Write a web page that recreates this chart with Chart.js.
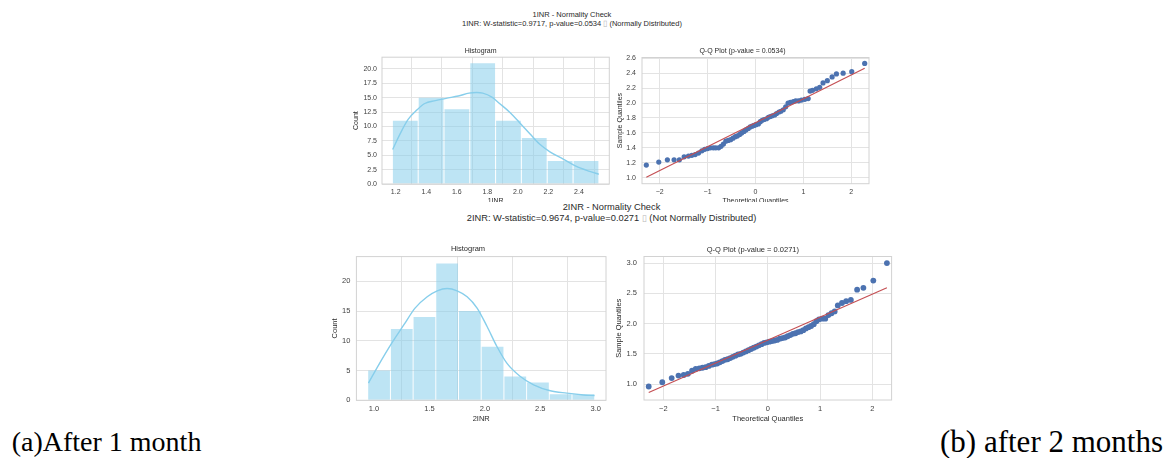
<!DOCTYPE html>
<html>
<head>
<meta charset="utf-8">
<script src="https://cdn.jsdelivr.net/npm/chart.js@4.4.1/dist/chart.umd.min.js"></script>
<style>
  body { margin: 0; background: #fff; }
  #page { position: relative; width: 1173px; height: 458px; overflow: hidden; font-family: "Liberation Sans", Arial, sans-serif; color: #2a2a2a; }
  canvas { position: absolute; }
  .sup { position: absolute; text-align: center; white-space: nowrap; background: #fff; }
  .tofu { color: #b8b8b8; }
  .cap { position: absolute; font-family: "Liberation Serif", serif; color: #000; line-height: 1; white-space: nowrap; }
</style>
</head>
<body>
<div id="page">
  <div class="sup" style="left:0; width:1144px; top:9.8px; font-size:7.5px; line-height:9px; background:none;">1INR - Normality Check<br>1INR: W-statistic=0.9717, p-value=0.0534 <span class="tofu">▯</span> (Normally Distributed)</div>

  <canvas id="hist1" width="260" height="165" style="left:352px; top:40px;"></canvas>
  <canvas id="qq1" width="257" height="165" style="left:616px; top:40px;"></canvas>

  <div class="sup" style="left:330px; width:563px; top:202px; height:22px; font-size:9.3px; line-height:10.5px;">2INR - Normality Check<br>2INR: W-statistic=0.9674, p-value=0.0271 <span class="tofu">▯</span> (Not Normally Distributed)</div>

  <canvas id="hist2" width="280" height="185" style="left:330px; top:238px;"></canvas>
  <canvas id="qq2" width="282" height="185" style="left:614px; top:238px;"></canvas>

  <div class="cap" style="left:11.7px; top:428px; font-size:28px;">(a)After 1 month</div>
  <div class="cap" style="right:10px; top:426px; font-size:31px;">(b) after 2 months</div>
</div>

<script>
// ---- 1INR (after 1 month) ----
const inr1Edges = [1.178, 1.347, 1.516, 1.685, 1.854, 2.023, 2.192, 2.362, 2.531];
const inr1Counts = [11, 15, 13, 21, 11, 8, 4, 4];
const inr1KdeX = [1.18, 1.23, 1.28, 1.34, 1.39, 1.46, 1.53, 1.61, 1.68, 1.73, 1.77, 1.83, 1.88, 1.95, 2.01, 2.08, 2.14, 2.21, 2.30, 2.38, 2.47, 2.53];
const inr1KdeY = [6.0, 8.8, 11.2, 12.9, 14.0, 14.5, 14.9, 15.3, 15.8, 15.9, 15.8, 15.1, 14.0, 12.4, 10.7, 8.7, 7.0, 5.6, 4.3, 3.1, 2.2, 1.7];
const hist1XTicks = [1.2, 1.4, 1.6, 1.8, 2.0, 2.2, 2.4];
const hist1YTicks = [0, 2.5, 5, 7.5, 10, 12.5, 15, 17.5, 20];

const qq1X = [-2.28, -2.02, -1.84, -1.70, -1.59, -1.49, -1.40, -1.33, -1.26, -1.19, -1.12, -1.06, -1.00, -0.94, -0.88, -0.83, -0.77, -0.72, -0.67, -0.62, -0.57, -0.52, -0.47, -0.42, -0.38, -0.33, -0.29, -0.24, -0.20, -0.15, -0.11, -0.07, -0.03, 0.01, 0.06, 0.10, 0.14, 0.18, 0.23, 0.27, 0.31, 0.35, 0.40, 0.44, 0.49, 0.53, 0.58, 0.63, 0.68, 0.73, 0.79, 0.84, 0.90, 0.96, 1.03, 1.10, 1.14, 1.19, 1.27, 1.34, 1.41, 1.50, 1.60, 1.69, 1.83, 2.01, 2.28];
const qq1Y = [1.17, 1.21, 1.24, 1.24, 1.24, 1.28, 1.29, 1.30, 1.31, 1.33, 1.36, 1.38, 1.39, 1.40, 1.40, 1.40, 1.40, 1.42, 1.45, 1.49, 1.50, 1.51, 1.53, 1.55, 1.56, 1.58, 1.60, 1.62, 1.64, 1.66, 1.68, 1.69, 1.70, 1.71, 1.72, 1.75, 1.77, 1.78, 1.79, 1.81, 1.82, 1.83, 1.84, 1.86, 1.88, 1.89, 1.91, 1.95, 2.00, 2.01, 2.02, 2.03, 2.03, 2.04, 2.05, 2.06, 2.16, 2.17, 2.19, 2.21, 2.27, 2.30, 2.35, 2.39, 2.40, 2.42, 2.53];
const qq1LineX = [-2.28, 2.28];
const qq1LineY = [1.005, 2.465];
const qq1YTicks = [1.0, 1.2, 1.4, 1.6, 1.8, 2.0, 2.2, 2.4, 2.6];

// ---- 2INR (after 2 months) ----
const inr2Edges = [0.943, 1.148, 1.353, 1.557, 1.762, 1.967, 2.172, 2.377, 2.581, 2.786, 2.991];
const inr2Counts = [5, 12, 14, 23, 15, 9, 4, 3, 1, 1];
const inr2KdeX = [0.95, 1.05, 1.16, 1.27, 1.37, 1.48, 1.57, 1.66, 1.75, 1.84, 1.93, 2.02, 2.11, 2.20, 2.32, 2.44, 2.59, 2.74, 2.89, 2.99];
const inr2KdeY = [2.9, 6.2, 9.6, 12.7, 15.5, 17.4, 18.4, 18.8, 18.4, 17.4, 15.5, 12.4, 9.0, 6.2, 4.0, 2.6, 1.6, 1.2, 0.9, 0.8];
const hist2XTicks = [1.0, 1.5, 2.0, 2.5, 3.0];
const hist2YTicks = [0, 5, 10, 15, 20];

const qq2X = [-2.28, -2.02, -1.84, -1.71, -1.61, -1.53, -1.45, -1.38, -1.31, -1.25, -1.19, -1.13, -1.07, -1.02, -0.97, -0.92, -0.87, -0.82, -0.77, -0.72, -0.67, -0.62, -0.57, -0.52, -0.47, -0.42, -0.37, -0.32, -0.27, -0.22, -0.17, -0.12, -0.07, -0.02, 0.03, 0.08, 0.13, 0.18, 0.23, 0.28, 0.33, 0.38, 0.43, 0.48, 0.53, 0.58, 0.63, 0.68, 0.73, 0.78, 0.83, 0.88, 0.93, 0.98, 1.04, 1.10, 1.16, 1.22, 1.28, 1.34, 1.42, 1.50, 1.59, 1.71, 1.83, 2.02, 2.28];
const qq2Y = [0.96, 1.03, 1.10, 1.14, 1.15, 1.17, 1.22, 1.25, 1.26, 1.27, 1.28, 1.30, 1.32, 1.33, 1.34, 1.36, 1.38, 1.40, 1.41, 1.43, 1.45, 1.47, 1.49, 1.50, 1.52, 1.54, 1.56, 1.58, 1.60, 1.62, 1.64, 1.66, 1.68, 1.69, 1.70, 1.71, 1.72, 1.73, 1.75, 1.76, 1.77, 1.79, 1.81, 1.83, 1.84, 1.86, 1.87, 1.89, 1.92, 1.94, 1.96, 1.99, 2.04, 2.07, 2.08, 2.08, 2.14, 2.17, 2.20, 2.30, 2.34, 2.37, 2.39, 2.56, 2.59, 2.71, 3.00];
const qq2LineX = [-2.28, 2.28];
const qq2LineY = [0.86, 2.59];
const qq2YTicks = [1.0, 1.5, 2.0, 2.5, 3.0];

const qqXTicks = [-2, -1, 0, 1, 2];

const TICK_COLOR = '#3f3f3f';
const GRID_COLOR = '#e3e3e3';
const FRAME_COLOR = '#d2d2d2';
const SKY = 'rgb(135, 206, 235)';
const SKY_FILL = 'rgba(135, 206, 235, 0.55)';
const DOT = '#4C72B0';
const FITLINE = '#C44E52';

// draw the box around the plot area like seaborn whitegrid
const framePlugin = {
  id: 'frame',
  afterDatasetsDraw(chart) {
    const a = chart.chartArea, ctx = chart.ctx;
    ctx.save();
    ctx.strokeStyle = FRAME_COLOR;
    ctx.lineWidth = 1;
    ctx.strokeRect(a.left, a.top, a.right - a.left, a.bottom - a.top);
    ctx.restore();
  }
};

function minusFmt(v) {
  return v < 0 ? '\u2212' + Math.abs(v) : String(v);
}

function axis(o, which) {
  const isX = which === 'x';
  return {
    type: 'linear',
    offset: false,
    min: isX ? o.xMin : o.yMin,
    max: isX ? o.xMax : o.yMax,
    afterBuildTicks: (s) => { s.ticks = (isX ? o.xTicks : o.yTicks).map(v => ({ value: v })); },
    afterFit: (s) => { if (isX) s.height = o.xHeight; else s.width = o.yWidth; },
    grid: { color: GRID_COLOR, lineWidth: 1, drawTicks: false },
    border: { display: false },
    ticks: {
      color: TICK_COLOR,
      font: { family: 'Liberation Sans', size: o.font },
      padding: isX ? o.xPad : o.yPad,
      autoSkip: false,
      maxRotation: 0,
      callback: isX ? o.xFmt : o.yFmt
    },
    title: {
      display: true,
      text: isX ? o.xTitle : o.yTitle,
      color: '#2a2a2a',
      font: { family: 'Liberation Sans', size: o.font, lineHeight: 1.2 },
      padding: { top: 0, bottom: 0 }
    }
  };
}

function baseOptions(o) {
  return {
    responsive: false,
    animation: false,
    devicePixelRatio: 1,
    layout: { padding: { left: 0, right: o.padRight, top: 0, bottom: 0 } },
    plugins: {
      legend: { display: false },
      tooltip: { enabled: false },
      title: {
        display: true,
        text: o.title,
        color: '#2a2a2a',
        font: { family: 'Liberation Sans', size: o.font, weight: 'normal', lineHeight: 1.2 },
        padding: { top: o.titleTop, bottom: o.titleBottom }
      }
    },
    scales: { x: axis(o, 'x'), y: axis(o, 'y') }
  };
}

function histChart(id, edges, counts, kdeX, kdeY, o) {
  const bars = counts.map((c, i) => ({ x: (edges[i] + edges[i + 1]) / 2, y: c }));
  const kde = kdeX.map((x, i) => ({ x: x, y: kdeY[i] }));
  return new Chart(document.getElementById(id), {
    type: 'bar',
    data: {
      datasets: [
        { type: 'line', data: kde, borderColor: SKY, borderWidth: 1.4, pointRadius: 0,
          cubicInterpolationMode: 'monotone', fill: false, order: 0 },
        { type: 'bar', data: bars, backgroundColor: SKY_FILL, borderWidth: 0,
          barPercentage: 0.96, categoryPercentage: 1, order: 1 }
      ]
    },
    options: baseOptions(o),
    plugins: [framePlugin]
  });
}

function qqChart(id, xs, ys, lx, ly, o) {
  return new Chart(document.getElementById(id), {
    type: 'scatter',
    data: {
      datasets: [
        { data: lx.map((x, i) => ({ x: x, y: ly[i] })), showLine: true, borderColor: FITLINE,
          borderWidth: 1.1, pointRadius: 0, order: 0 },
        { data: xs.map((x, i) => ({ x: x, y: ys[i] })), backgroundColor: DOT, borderWidth: 0,
          pointRadius: o.dot, order: 1 }
      ]
    },
    options: baseOptions(o),
    plugins: [framePlugin]
  });
}

histChart('hist1', inr1Edges, inr1Counts, inr1KdeX, inr1KdeY, {
  title: 'Histogram', font: 7, titleTop: 7, titleBottom: 1.8,
  xMin: 1.110, xMax: 2.599, yMin: 0, yMax: 22.05,
  xTicks: hist1XTicks, yTicks: hist1YTicks,
  xFmt: v => v.toFixed(1), yFmt: v => v.toFixed(1),
  xTitle: '1INR', yTitle: 'Count',
  yWidth: 30, xHeight: 21, xPad: 4, yPad: 5, padRight: 2.7
});

qqChart('qq1', qq1X, qq1Y, qq1LineX, qq1LineY, {
  title: 'Q-Q Plot (p-value = 0.0534)', font: 7, titleTop: 7.3, titleBottom: 1.8,
  xMin: -2.37, xMax: 2.37, yMin: 0.92, yMax: 2.61,
  xTicks: qqXTicks, yTicks: qq1YTicks,
  xFmt: minusFmt, yFmt: v => v.toFixed(1),
  xTitle: 'Theoretical Quantiles', yTitle: 'Sample Quantiles',
  yWidth: 26, xHeight: 21.3, xPad: 4, yPad: 6, padRight: 4, dot: 2.6
});

histChart('hist2', inr2Edges, inr2Counts, inr2KdeX, inr2KdeY, {
  title: 'Histogram', font: 7.5, titleTop: 6.8, titleBottom: 2.8,
  xMin: 0.841, xMax: 3.093, yMin: 0, yMax: 24.15,
  xTicks: hist2XTicks, yTicks: hist2YTicks,
  xFmt: v => v.toFixed(1), yFmt: v => String(v),
  xTitle: '2INR', yTitle: 'Count',
  yWidth: 26.4, xHeight: 22.7, xPad: 4.5, yPad: 6, padRight: 4
});

qqChart('qq2', qq2X, qq2Y, qq2LineX, qq2LineY, {
  title: 'Q-Q Plot (p-value = 0.0271)', font: 7.5, titleTop: 7.5, titleBottom: 2,
  xMin: -2.37, xMax: 2.37, yMin: 0.737, yMax: 3.108,
  xTicks: qqXTicks, yTicks: qq2YTicks,
  xFmt: minusFmt, yFmt: v => v.toFixed(1),
  xTitle: 'Theoretical Quantiles', yTitle: 'Sample Quantiles',
  yWidth: 30, xHeight: 23, xPad: 4.5, yPad: 7, padRight: 4.4, dot: 2.9
});
</script>
</body>
</html>
